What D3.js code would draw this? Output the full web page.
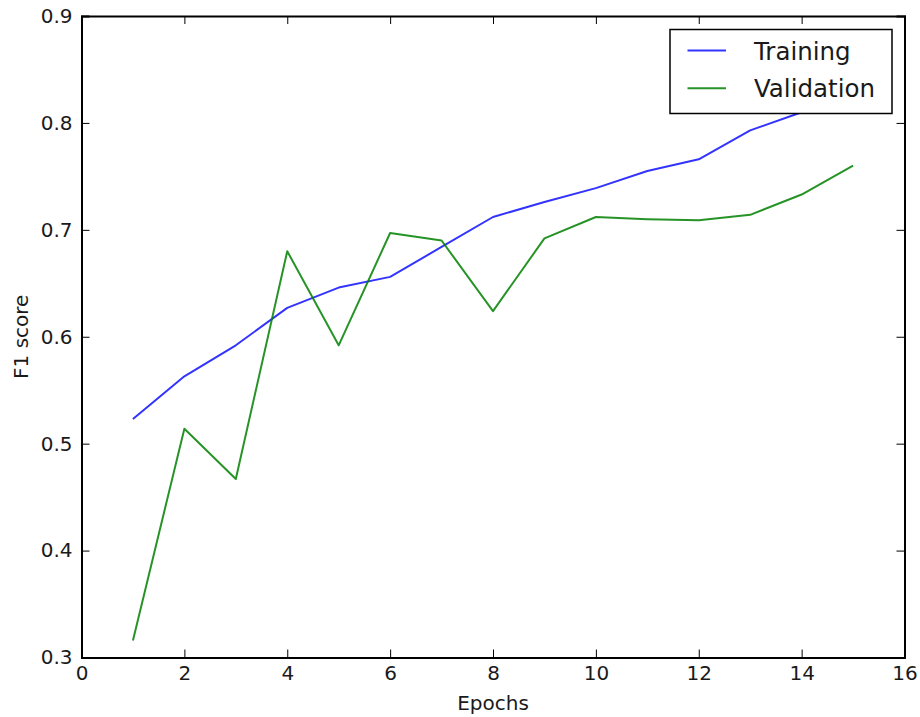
<!DOCTYPE html>
<html>
<head>
<meta charset="utf-8">
<script src="https://cdn.jsdelivr.net/npm/d3@7"></script>
<style>
  body { margin: 0; background: #fff; }
  text { font-family: "DejaVu Sans", sans-serif; fill: #1a1a1a; }
</style>
</head>
<body>
<svg id="chart" width="920" height="717"></svg>
<script>
// data
var epochs = [1, 2, 3, 4, 5, 6, 7, 8, 9, 10, 11, 12, 13, 14, 15];
var training = [0.523, 0.563, 0.592, 0.627, 0.646, 0.656, 0.684, 0.712, 0.726, 0.739, 0.755, 0.766, 0.793, 0.810, 0.828];
var validation = [0.316, 0.514, 0.467, 0.680, 0.592, 0.697, 0.690, 0.624, 0.692, 0.712, 0.710, 0.709, 0.714, 0.733, 0.760];
var xTicks = [0, 2, 4, 6, 8, 10, 12, 14, 16];
var yTicks = [0.3, 0.4, 0.5, 0.6, 0.7, 0.8, 0.9];
var seriesNames = ['Training', 'Validation'];
var seriesColors = ['#0000ff', '#008000'];

var margin = { top: 16, left: 81.5, right: 15.5, bottom: 59.5 };
var width = 920, height = 717;
var plotW = width - margin.left - margin.right;
var plotH = height - margin.top - margin.bottom;
var tickLen = 8;

var svg = d3.select('#chart');
var g = svg.append('g')
    .attr('transform', 'translate(' + margin.left + ',' + margin.top + ')');

var x = d3.scaleLinear().domain([0, 16]).range([0, plotW]);
var y = d3.scaleLinear().domain([0.3, 0.9]).range([plotH, 0]);

// clip the lines to the axes box
svg.append('defs').append('clipPath').attr('id', 'clip')
    .append('rect').attr('width', plotW).attr('height', plotH);

var line = d3.line()
    .x(function(d, i) { return x(epochs[i]); })
    .y(function(d) { return y(d); });

var lines = g.append('g').attr('clip-path', 'url(#clip)');
[training, validation].forEach(function(vals, k) {
    lines.append('path')
        .datum(vals)
        .attr('fill', 'none')
        .attr('stroke', seriesColors[k])
        .attr('stroke-opacity', k == 0 ? 0.8 : 0.85)
        .attr('stroke-width', 2)
        .attr('stroke-linejoin', 'round')
        .attr('d', line);
});

// axes, matplotlib classic style: ticks inside on all four sides
var fmtY = d3.format('.1f');
g.append('g')
    .attr('transform', 'translate(0,' + plotH + ')')
    .call(d3.axisBottom(x).tickValues(xTicks).tickSize(-tickLen).tickPadding(8).tickFormat(d3.format('d')));
g.append('g')
    .call(d3.axisTop(x).tickValues(xTicks).tickSize(-tickLen).tickFormat(''));
g.append('g')
    .call(d3.axisLeft(y).tickValues(yTicks).tickSize(-tickLen).tickPadding(9).tickFormat(fmtY));
g.append('g')
    .attr('transform', 'translate(' + plotW + ',0)')
    .call(d3.axisRight(y).tickValues(yTicks).tickSize(-tickLen).tickFormat(''));

g.selectAll('.domain').attr('stroke', '#000').attr('stroke-width', 2);
g.selectAll('.tick line').attr('stroke', '#000').attr('stroke-width', 1);
g.selectAll('.tick text')
    .style('font-size', '20px')
    .style('font-family', '"DejaVu Sans", sans-serif')
    .attr('fill', '#1a1a1a');

// axis labels
svg.append('text')
    .attr('x', margin.left + plotW / 2)
    .attr('y', 710)
    .attr('text-anchor', 'middle')
    .style('font-size', '20px')
    .text('Epochs');

svg.append('text')
    .attr('transform', 'translate(28,' + (margin.top + plotH / 2) + ') rotate(-90)')
    .attr('text-anchor', 'middle')
    .style('font-size', '20px')
    .text('F1 score');

// legend
var legend = svg.append('g').attr('transform', 'translate(670,29.5)');
legend.append('rect')
    .attr('width', 222).attr('height', 84)
    .attr('fill', '#fff')
    .attr('stroke', '#000')
    .attr('stroke-width', 1.5);

seriesNames.forEach(function(name, k) {
    var ly = 21 + k * 37.7;
    legend.append('line')
        .attr('x1', 17.5).attr('x2', 56)
        .attr('y1', ly).attr('y2', ly)
        .attr('stroke', seriesColors[k])
        .attr('stroke-opacity', k == 0 ? 0.8 : 0.85)
        .attr('stroke-width', 2);
    legend.append('text')
        .attr('x', 84)
        .attr('y', ly + 9)
        .style('font-size', '24.5px')
        .text(name);
});
</script>
</body>
</html>
